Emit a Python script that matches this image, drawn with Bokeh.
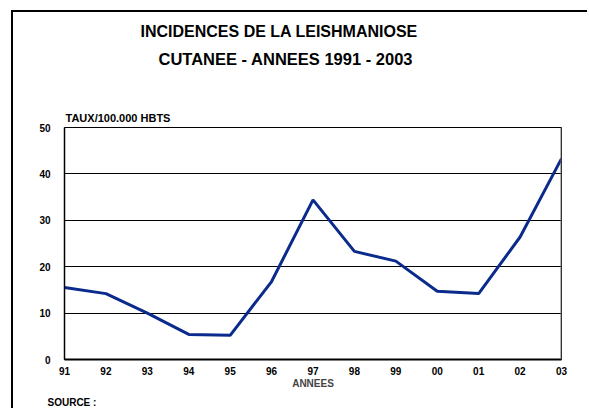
from bokeh.plotting import figure
from bokeh.models import Title, FixedTicker, Range1d, Span
from bokeh.embed import file_html
from bokeh.resources import INLINE

years = [1991, 1992, 1993, 1994, 1995, 1996, 1997, 1998, 1999, 2000, 2001, 2002, 2003]
year_labels = ["91", "92", "93", "94", "95", "96", "97", "98", "99", "00", "01", "02", "03"]
rates = [15.5, 14.2, 10.0, 5.4, 5.2, 16.8, 34.4, 23.3, 21.2, 14.7, 14.2, 26.4, 43.3]
y_ticks = [0, 10, 20, 30, 40, 50]

title1 = "INCIDENCES DE LA LEISHMANIOSE"
title2 = "CUTANEE - ANNEES 1991 - 2003"
y_title = "TAUX/100.000 HBTS"
x_title = "ANNEES"
source_text = "SOURCE :"

FONT = "Liberation Sans"

p = figure(width=576, height=398, output_backend="svg", toolbar_location=None,
           x_range=Range1d(years[0], years[-1]), y_range=Range1d(y_ticks[0], y_ticks[-1]),
           min_border_left=51, min_border_right=28, min_border_top=115, min_border_bottom=51)
p.styles = {"margin-left": "11px", "margin-top": "10px",
            "border-left": "2px solid black", "border-top": "2px solid black"}

p.line(years, rates, line_color="#0a2a8c", line_width=3)

p.outline_line_color = "black"
p.outline_line_width = 1
p.background_fill_color = "white"
p.border_fill_color = "white"
p.add_layout(Span(location=years[-1], dimension="height", line_color="#666666", line_width=2))

p.xgrid.grid_line_color = None
p.ygrid.grid_line_color = "black"
p.ygrid.grid_line_width = 1

for ax in (p.xaxis[0], p.yaxis[0]):
    ax.major_tick_line_color = None
    ax.minor_tick_line_color = None
    ax.axis_line_color = "black"
    ax.major_label_text_font = FONT
    ax.major_label_text_font_style = "bold"
    ax.major_label_text_font_size = "10px"
    ax.major_label_text_color = "black"
p.xaxis.axis_line_width = 2
p.yaxis.axis_line_width = 1.5

p.xaxis.ticker = FixedTicker(ticks=years)
p.xaxis.major_label_overrides = {y: l for y, l in zip(years, year_labels)}
p.xaxis.major_label_standoff = 1
p.xaxis.axis_label = x_title
p.xaxis.axis_label_text_font = FONT
p.xaxis.axis_label_text_font_style = "bold"
p.xaxis.axis_label_text_font_size = "10px"
p.xaxis.axis_label_standoff = 0

p.yaxis.ticker = FixedTicker(ticks=y_ticks)
p.yaxis.major_label_standoff = 8

def title(text, size, offset, standoff, place):
    p.add_layout(Title(text=text, align="left", offset=offset, standoff=standoff,
                       text_font=FONT, text_font_style="bold", text_font_size=size,
                       text_color="black"), place)

title(y_title, "11px", 1, 8, "above")
title(" ", "1px", 0, 26, "above")
title(title2, "16.5px", 94, 17, "above")
title(title1, "16px", 76, 0, "above")
title(source_text, "10px", -17, 6, "below")

open("out.html", "w").write(file_html(p, INLINE))
